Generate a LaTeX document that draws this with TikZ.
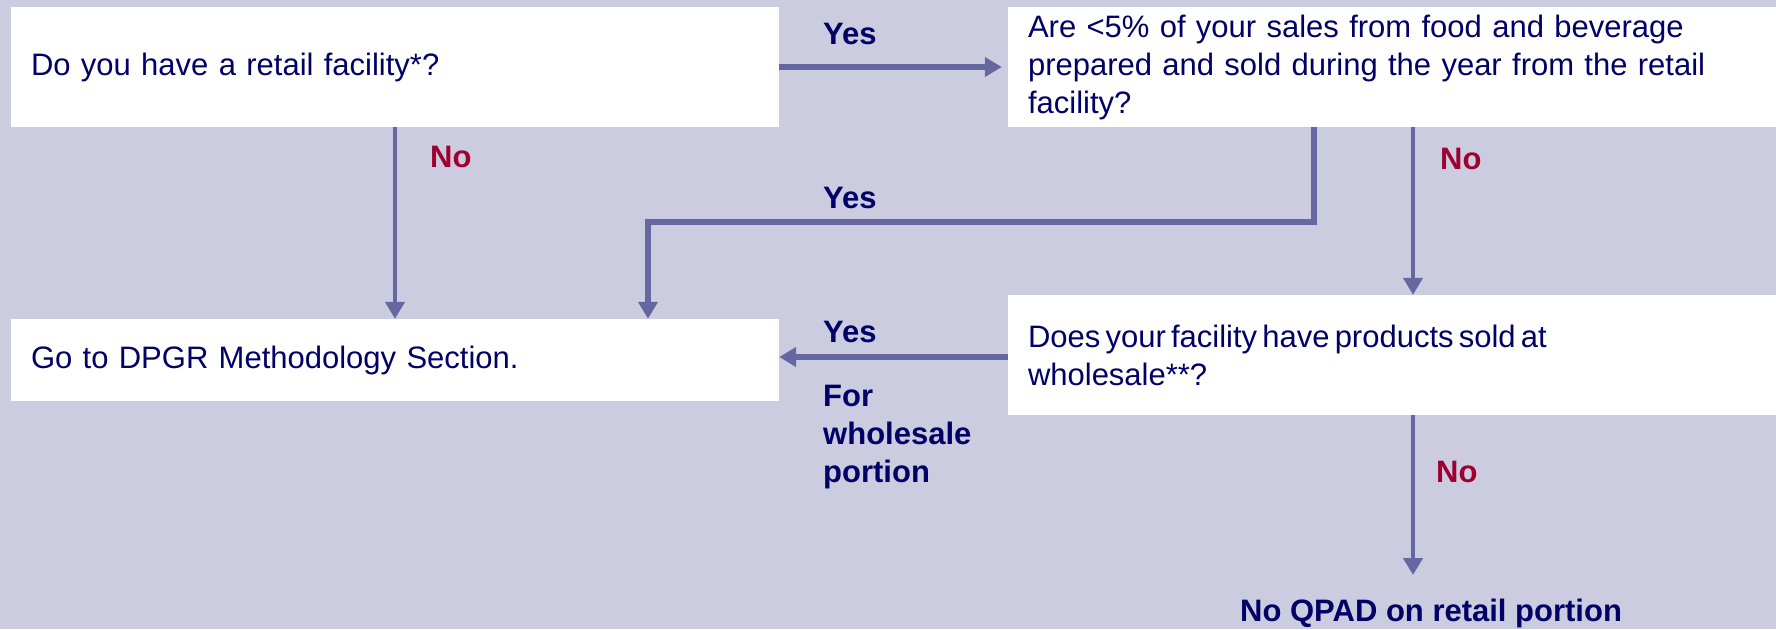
\documentclass[tikz,border=0pt]{standalone}
\usepackage{fontspec}
\setmainfont{Liberation Sans}
\usetikzlibrary{arrows.meta}
\definecolor{bgcol}{RGB}{204,204,224}
\definecolor{linecol}{RGB}{102,102,160}
\definecolor{navy}{RGB}{0,0,102}
\definecolor{nored}{RGB}{160,0,48}
\begin{document}
\begin{tikzpicture}[x=1pt,y=-1pt,
  box/.style={rectangle, fill=white, inner xsep=20pt, inner ysep=0pt,
    align=left, text width=728pt, minimum width=768pt,
    font=\fontsize{31}{38}\selectfont, text=navy},
  arr/.style={draw=linecol, line width=5.5pt,
    -{Triangle[length=17pt,width=19pt]}},
  thinarr/.style={arr, line width=4.5pt},
  lbl/.style={inner sep=0pt, anchor=base west,
    font=\fontsize{31}{38}\selectfont\bfseries, text=navy},
  nolbl/.style={lbl, text=nored}]
\useasboundingbox (0,0) rectangle (1776,629);
\fill[bgcol] (0,0) rectangle (1776,629);

% question and answer boxes
\node[box, minimum height=120pt] (retail) at (395,67)
  {Do you have a retail facility*?};
\node[box, minimum height=120pt] (food) at (1392,67)
  {Are <5\% of your sales from food and beverage\\
   prepared and sold during the year from the retail\\
   facility?};
\node[box, minimum height=82pt] (dpgr) at (395,360)
  {Go to DPGR Methodology Section.};
\node[box, minimum height=120pt] (whole) at (1392,355)
  {\spaceskip=5.2pt plus 1pt Does your facility have products sold at\\
   wholesale**?};

% outcome text
\node[lbl] (qpad) at (1240,621) {No QPAD on retail portion};

% helper points
\coordinate (elbow) at (648,222);
\coordinate (qpadtip) at (1413,575);

% connectors
\draw[arr, shorten >=6pt] (retail) -- (food);
\draw[thinarr] (retail) -- (dpgr);
\draw[arr] ([xshift=-78pt]food.south) |- (elbow) -- (elbow |- dpgr.north);
\draw[thinarr] ([xshift=21pt]food.south) -- ([xshift=21pt]whole.north);
\draw[arr] ([yshift=-2pt]whole.west) -- ([yshift=3pt]dpgr.east);
\draw[thinarr] ([xshift=21pt]whole.south) -- (qpadtip);

% connector labels
\node[lbl] (yes1) at (823,44) {Yes};
\node[nolbl] (no1) at (430,167) {No};
\node[lbl] (yes2) at (823,208) {Yes};
\node[nolbl] (no2) at (1440,169) {No};
\node[lbl] (yes3) at (823,342) {Yes};
\node[lbl, anchor=north west, align=left] (forwh) at (823,385)
  {For\\wholesale\\portion};
\node[nolbl] (no3) at (1436,482) {No};
\end{tikzpicture}
\end{document}
